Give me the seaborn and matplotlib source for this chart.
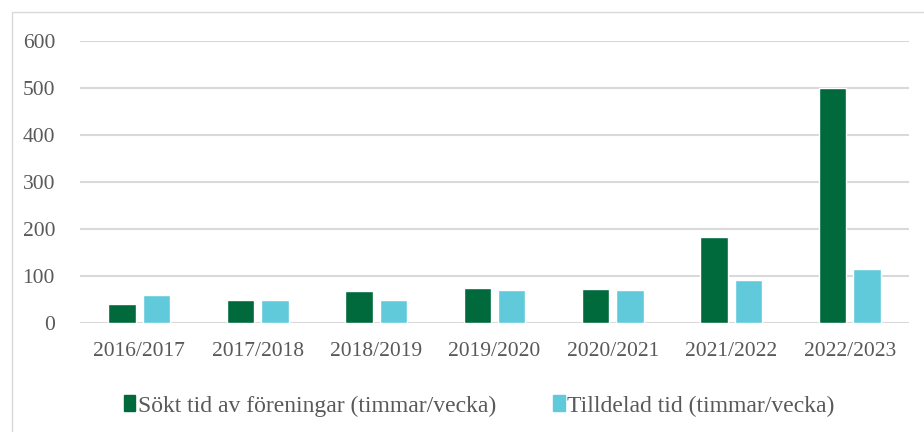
import pandas as pd
import seaborn as sns
import matplotlib.pyplot as plt
from matplotlib.patches import Rectangle, Patch

# data
seasons = ['2016/2017', '2017/2018', '2018/2019', '2019/2020',
           '2020/2021', '2021/2022', '2022/2023']
sokt = [41, 48, 68, 74, 73, 184, 500]
tilldelad = [59, 48, 50, 70, 70, 92, 115]
series_names = ['Sökt tid av föreningar (timmar/vecka)', 'Tilldelad tid (timmar/vecka)']
colors = ['#006A3D', '#60CADB']

df = pd.DataFrame({'Säsong': seasons * 2,
                   'Timmar': sokt + tilldelad,
                   'Serie': [series_names[0]] * len(seasons) + [series_names[1]] * len(seasons)})

sns.set_style('white')
plt.rcParams['font.family'] = ['Liberation Serif', 'DejaVu Serif']
textcol = '#595959'

fig = plt.figure(figsize=(9.24, 4.32), dpi=100)
ax = fig.add_axes([80 / 924, 1 - 323 / 432, 829 / 924, 282 / 432])

sns.barplot(data=df, x='Säsong', y='Timmar', hue='Serie', palette=colors,
            width=0.58, gap=0.2, ax=ax, legend=False, saturation=1)

ax.set_ylim(0, 600)
ax.set_yticks(range(0, 601, 100))
ax.set_xlabel('')
ax.set_ylabel('')
ax.grid(axis='y', color='#D9D9D9', linewidth=1.5)
ax.set_axisbelow(True)
for s in ax.spines.values():
    s.set_visible(False)
ax.tick_params(axis='both', length=0, labelsize=15.5, colors=textcol)
ax.tick_params(axis='y', pad=18)
ax.tick_params(axis='x', pad=14)

handles = [Patch(color=c) for c in colors]
fig.legend(handles, series_names, loc='center', bbox_to_anchor=(479 / 924, 1 - 406 / 432),
           ncol=2, frameon=False, fontsize=17, labelcolor=textcol,
           handlelength=0.5, handleheight=0.65, handletextpad=0.1, columnspacing=2.4)

# outer chart frame
fig.patches.append(Rectangle((12 / 924, -0.1), 1.1, 1 - 12 / 432 + 0.1,
                             transform=fig.transFigure, fill=False,
                             edgecolor='#D9D9D9', linewidth=1))

fig.savefig('out.png', dpi=100)
